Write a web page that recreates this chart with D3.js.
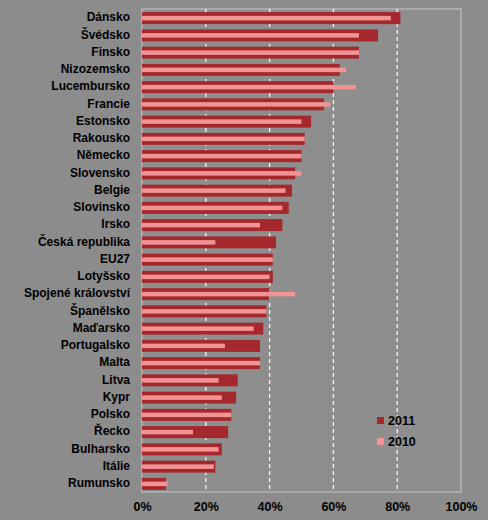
<!DOCTYPE html>
<html><head><meta charset="utf-8">
<script src="https://cdn.jsdelivr.net/npm/d3@7"></script>
<style>
html,body{margin:0;padding:0;background:#8c8c8c;}
svg{display:block;}
text{font-family:"Liberation Sans",Arial,sans-serif;font-weight:bold;}
</style></head>
<body>
<svg id="chart" width="488" height="520"></svg>
<script>
const categories = ["Dánsko","Švédsko","Finsko","Nizozemsko","Lucembursko","Francie","Estonsko","Rakousko","Německo","Slovensko","Belgie","Slovinsko","Irsko","Česká republika","EU27","Lotyšsko","Spojené království","Španělsko","Maďarsko","Portugalsko","Malta","Litva","Kypr","Polsko","Řecko","Bulharsko","Itálie","Rumunsko"];
const values2011 = [81,74,68,62,60,57,53,51,50,48,47,46,44,42,41,41,40,39,38,37,37,30,29.5,28,27,25,23,7.5];
const values2010 = [78,68,68,64,67,59,50,51,50,50,45,44,37,23,41,40,48,39,35,26,37,24,25,28,16,24,22.5,8];
const xTicks = [0,20,40,60,80,100];
const seriesNames = ["2011","2010"];
const colors = {"2011":"#a5282c","2010":"#f29494"};

(function(){
const svg = d3.select("#chart");
const pl = 142, pr = 461, pt = 9, pb = 492;
const x = d3.scaleLinear().domain([0,100]).range([pl,pr]);
const y = d3.scaleBand().domain(categories).range([pt,pb]).padding(0);

// plot area
svg.append("rect").attr("x",pl).attr("y",pt).attr("width",pr-pl).attr("height",pb-pt)
  .attr("fill","#8e8e8e").attr("stroke","#b4b4b4").attr("stroke-width",1.5);

// gridlines
svg.append("g").selectAll("line").data(xTicks.filter(d=>d>0 && d<100)).join("line")
  .attr("x1",d=>x(d)).attr("x2",d=>x(d)).attr("y1",pt).attr("y2",pb)
  .attr("stroke","#f4f4f4").attr("stroke-width",1.3).attr("stroke-dasharray","4,3");

// bars 2011
const bw = 12;
svg.append("g").selectAll("rect").data(categories).join("rect")
  .attr("x",x(0)).attr("y",(d)=>y(d)+y.bandwidth()/2-bw/2+0.5)
  .attr("width",(d,i)=>x(values2011[i])-x(0)).attr("height",bw)
  .attr("fill",colors["2011"]);
// bars 2010
const bw2 = 4.5;
svg.append("g").selectAll("rect").data(categories).join("rect")
  .attr("x",x(0)).attr("y",(d)=>y(d)+y.bandwidth()/2-bw2/2+0.5)
  .attr("width",(d,i)=>x(values2010[i])-x(0)).attr("height",bw2)
  .attr("fill",colors["2010"]);

// y labels
const yAxis = d3.axisLeft(y).tickSize(0).tickPadding(12);
const gy = svg.append("g").attr("transform",`translate(${pl},0)`).call(yAxis);
gy.select(".domain").remove();
gy.selectAll("text").attr("fill","#000").style("font-size","12px").style("font-family","'Liberation Sans',Arial,sans-serif").style("font-weight","bold");

// x labels
const xAxis = d3.axisBottom(x).tickValues(xTicks).tickFormat(d=>d+"%").tickSize(0).tickPadding(10);
const gx = svg.append("g").attr("transform",`translate(0,${pb})`).call(xAxis);
gx.select(".domain").remove();
gx.selectAll("text").attr("fill","#000").style("font-size","12.5px").style("font-family","'Liberation Sans',Arial,sans-serif").style("font-weight","bold");

// legend
const lg = svg.append("g").attr("transform","translate(377,417)");
seriesNames.forEach((s,i)=>{
  lg.append("rect").attr("x",0).attr("y",i*21).attr("width",7).attr("height",7).attr("fill",colors[s]);
  lg.append("text").attr("x",11).attr("y",i*21+7.5).text(s).attr("fill","#000").style("font-size","12.5px");
});
})();
</script>
</body></html>
